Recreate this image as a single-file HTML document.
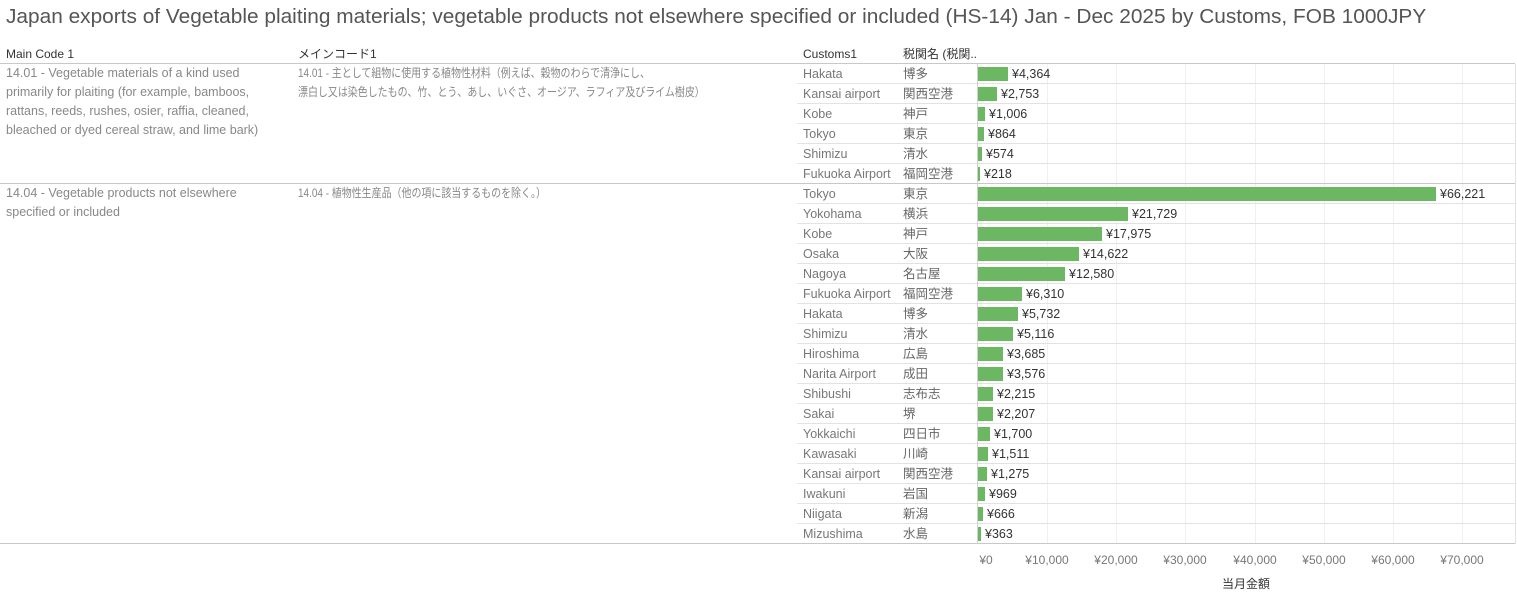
<!DOCTYPE html>
<html><head><meta charset="utf-8"><style>
body{margin:0;width:1517px;height:601px;background:#fff;position:relative;overflow:hidden;font-family:"Liberation Sans","Noto Sans CJK JP",sans-serif;}
div{position:absolute;white-space:nowrap}
.t{left:6px;top:6px;font-size:20px;color:#555;transform:scaleX(1.042);transform-origin:left}
.h{top:45px;font-size:12px;color:#333;line-height:18px}
.c{font-size:12.5px;color:#777;line-height:20px;height:20px}
.j{font-size:12.5px;color:#666;line-height:20px;height:20px}
.v{font-size:12.5px;color:#333;line-height:20px;height:20px}
.b{background:#6cb862;height:14px}
.rl{left:797px;width:718px;height:1px;background:#e2e2e2}
.gl{left:0;width:1515px;height:1px;background:#c8c8c8}
.vg{top:64px;height:480px;width:1px;background:#f0f0f0}
.tk{top:552px;font-size:12px;color:#777;line-height:16px;transform:translateX(-50%)}
.m{font-size:12.5px;color:#888;line-height:19px;white-space:normal}
.mj{font-size:12px;color:#888;line-height:19px;transform:scaleX(0.83);transform-origin:left}
</style></head><body>
<div class="t">Japan exports of Vegetable plaiting materials; vegetable products not elsewhere specified or included (HS-14) Jan - Dec 2025 by Customs, FOB 1000JPY</div>
<div class="h" style="left:6px">Main Code 1</div>
<div class="h" style="left:298px">メインコード1</div>
<div class="h" style="left:803px">Customs1</div>
<div class="h" style="left:903px">税関名 (税関..</div>

<div class="vg" style="left:1047px"></div><div class="vg" style="left:1116px"></div><div class="vg" style="left:1185px"></div><div class="vg" style="left:1255px"></div><div class="vg" style="left:1324px"></div><div class="vg" style="left:1393px"></div><div class="vg" style="left:1462px"></div>
<div style="left:1515px;top:64px;width:1px;height:480px;background:#e2e2e2"></div>

<div class="gl" style="top:63px"></div>
<div class="gl" style="top:183px"></div>
<div class="gl" style="top:543px"></div>
<div class="rl" style="top:83px"></div><div class="rl" style="top:103px"></div><div class="rl" style="top:123px"></div><div class="rl" style="top:143px"></div><div class="rl" style="top:163px"></div>
<div class="rl" style="top:203px"></div><div class="rl" style="top:223px"></div><div class="rl" style="top:243px"></div><div class="rl" style="top:263px"></div><div class="rl" style="top:283px"></div><div class="rl" style="top:303px"></div><div class="rl" style="top:323px"></div><div class="rl" style="top:343px"></div><div class="rl" style="top:363px"></div><div class="rl" style="top:383px"></div><div class="rl" style="top:403px"></div><div class="rl" style="top:423px"></div><div class="rl" style="top:443px"></div><div class="rl" style="top:463px"></div><div class="rl" style="top:483px"></div><div class="rl" style="top:503px"></div><div class="rl" style="top:523px"></div>
<div style="left:977px;top:64px;width:1px;height:480px;background:#d0d0d0"></div>

<div class="m" style="left:6px;top:64px;width:265px">14.01 - Vegetable materials of a kind used primarily for plaiting (for example, bamboos, rattans, reeds, rushes, osier, raffia, cleaned, bleached or dyed cereal straw, and lime bark)</div>
<div class="mj" style="left:298px;top:64px">14.01 - 主として組物に使用する植物性材料（例えば、穀物のわらで清浄にし、<br>漂白し又は染色したもの、竹、とう、あし、いぐさ、オージア、ラフィア及びライム樹皮）</div>
<div class="m" style="left:6px;top:184px;width:260px">14.04 - Vegetable products not elsewhere specified or included</div>
<div class="mj" style="left:298px;top:184px">14.04 - 植物性生産品（他の項に該当するものを除く。）</div>

<div class="c" style="left:803px;top:64px">Hakata</div><div class="j" style="left:903px;top:64px">博多</div><div class="b" style="left:978px;top:67px;width:30px"></div><div class="v" style="left:1012px;top:64px">¥4,364</div>
<div class="c" style="left:803px;top:84px">Kansai airport</div><div class="j" style="left:903px;top:84px">関西空港</div><div class="b" style="left:978px;top:87px;width:19px"></div><div class="v" style="left:1001px;top:84px">¥2,753</div>
<div class="c" style="left:803px;top:104px">Kobe</div><div class="j" style="left:903px;top:104px">神戸</div><div class="b" style="left:978px;top:107px;width:7px"></div><div class="v" style="left:989px;top:104px">¥1,006</div>
<div class="c" style="left:803px;top:124px">Tokyo</div><div class="j" style="left:903px;top:124px">東京</div><div class="b" style="left:978px;top:127px;width:6px"></div><div class="v" style="left:988px;top:124px">¥864</div>
<div class="c" style="left:803px;top:144px">Shimizu</div><div class="j" style="left:903px;top:144px">清水</div><div class="b" style="left:978px;top:147px;width:4px"></div><div class="v" style="left:986px;top:144px">¥574</div>
<div class="c" style="left:803px;top:164px">Fukuoka Airport</div><div class="j" style="left:903px;top:164px">福岡空港</div><div class="b" style="left:978px;top:167px;width:1.5px"></div><div class="v" style="left:984px;top:164px">¥218</div>

<div class="c" style="left:803px;top:184px">Tokyo</div><div class="j" style="left:903px;top:184px">東京</div><div class="b" style="left:978px;top:187px;width:458px"></div><div class="v" style="left:1440px;top:184px">¥66,221</div>
<div class="c" style="left:803px;top:204px">Yokohama</div><div class="j" style="left:903px;top:204px">横浜</div><div class="b" style="left:978px;top:207px;width:150px"></div><div class="v" style="left:1132px;top:204px">¥21,729</div>
<div class="c" style="left:803px;top:224px">Kobe</div><div class="j" style="left:903px;top:224px">神戸</div><div class="b" style="left:978px;top:227px;width:124px"></div><div class="v" style="left:1106px;top:224px">¥17,975</div>
<div class="c" style="left:803px;top:244px">Osaka</div><div class="j" style="left:903px;top:244px">大阪</div><div class="b" style="left:978px;top:247px;width:101px"></div><div class="v" style="left:1083px;top:244px">¥14,622</div>
<div class="c" style="left:803px;top:264px">Nagoya</div><div class="j" style="left:903px;top:264px">名古屋</div><div class="b" style="left:978px;top:267px;width:87px"></div><div class="v" style="left:1069px;top:264px">¥12,580</div>
<div class="c" style="left:803px;top:284px">Fukuoka Airport</div><div class="j" style="left:903px;top:284px">福岡空港</div><div class="b" style="left:978px;top:287px;width:44px"></div><div class="v" style="left:1026px;top:284px">¥6,310</div>
<div class="c" style="left:803px;top:304px">Hakata</div><div class="j" style="left:903px;top:304px">博多</div><div class="b" style="left:978px;top:307px;width:40px"></div><div class="v" style="left:1022px;top:304px">¥5,732</div>
<div class="c" style="left:803px;top:324px">Shimizu</div><div class="j" style="left:903px;top:324px">清水</div><div class="b" style="left:978px;top:327px;width:35px"></div><div class="v" style="left:1017px;top:324px">¥5,116</div>
<div class="c" style="left:803px;top:344px">Hiroshima</div><div class="j" style="left:903px;top:344px">広島</div><div class="b" style="left:978px;top:347px;width:25px"></div><div class="v" style="left:1007px;top:344px">¥3,685</div>
<div class="c" style="left:803px;top:364px">Narita Airport</div><div class="j" style="left:903px;top:364px">成田</div><div class="b" style="left:978px;top:367px;width:25px"></div><div class="v" style="left:1007px;top:364px">¥3,576</div>
<div class="c" style="left:803px;top:384px">Shibushi</div><div class="j" style="left:903px;top:384px">志布志</div><div class="b" style="left:978px;top:387px;width:15px"></div><div class="v" style="left:997px;top:384px">¥2,215</div>
<div class="c" style="left:803px;top:404px">Sakai</div><div class="j" style="left:903px;top:404px">堺</div><div class="b" style="left:978px;top:407px;width:15px"></div><div class="v" style="left:997px;top:404px">¥2,207</div>
<div class="c" style="left:803px;top:424px">Yokkaichi</div><div class="j" style="left:903px;top:424px">四日市</div><div class="b" style="left:978px;top:427px;width:12px"></div><div class="v" style="left:994px;top:424px">¥1,700</div>
<div class="c" style="left:803px;top:444px">Kawasaki</div><div class="j" style="left:903px;top:444px">川崎</div><div class="b" style="left:978px;top:447px;width:10px"></div><div class="v" style="left:992px;top:444px">¥1,511</div>
<div class="c" style="left:803px;top:464px">Kansai airport</div><div class="j" style="left:903px;top:464px">関西空港</div><div class="b" style="left:978px;top:467px;width:9px"></div><div class="v" style="left:991px;top:464px">¥1,275</div>
<div class="c" style="left:803px;top:484px">Iwakuni</div><div class="j" style="left:903px;top:484px">岩国</div><div class="b" style="left:978px;top:487px;width:7px"></div><div class="v" style="left:989px;top:484px">¥969</div>
<div class="c" style="left:803px;top:504px">Niigata</div><div class="j" style="left:903px;top:504px">新潟</div><div class="b" style="left:978px;top:507px;width:5px"></div><div class="v" style="left:987px;top:504px">¥666</div>
<div class="c" style="left:803px;top:524px">Mizushima</div><div class="j" style="left:903px;top:524px">水島</div><div class="b" style="left:978px;top:527px;width:2.5px"></div><div class="v" style="left:985px;top:524px">¥363</div>

<div class="tk" style="left:986px">¥0</div>
<div class="tk" style="left:1047px">¥10,000</div>
<div class="tk" style="left:1116px">¥20,000</div>
<div class="tk" style="left:1185px">¥30,000</div>
<div class="tk" style="left:1255px">¥40,000</div>
<div class="tk" style="left:1324px">¥50,000</div>
<div class="tk" style="left:1393px">¥60,000</div>
<div class="tk" style="left:1462px">¥70,000</div>
<div style="left:1222px;top:576px;font-size:12px;color:#333;line-height:16px">当月金額</div>
</body></html>
